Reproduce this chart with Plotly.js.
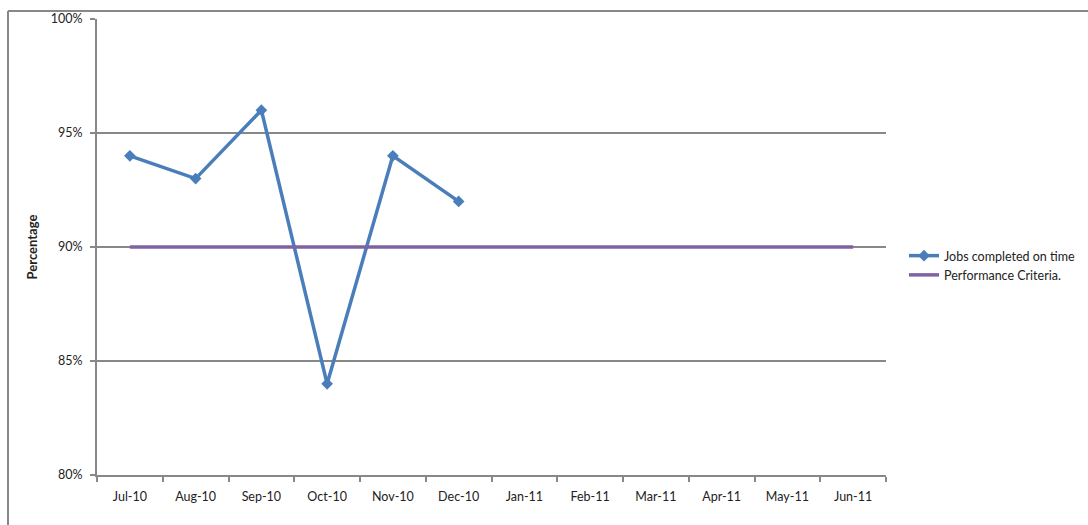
<!DOCTYPE html>
<html>
<head>
<meta charset="utf-8">
<script src="https://cdn.plot.ly/plotly-3.0.1.min.js"></script>
<style>html,body{margin:0;padding:0;background:#fff;}#chart{width:1088px;height:525px;}</style>
</head>
<body>
<div id="chart"></div>
<script>
const months = ["Jul-10","Aug-10","Sep-10","Oct-10","Nov-10","Dec-10","Jan-11","Feb-11","Mar-11","Apr-11","May-11","Jun-11"];
const jobsMonths = ["Jul-10","Aug-10","Sep-10","Oct-10","Nov-10","Dec-10"];
const jobsCompleted = [94, 93, 96, 84, 94, 92];
const criteria = [90,90,90,90,90,90,90,90,90,90,90,90];

const L = 97, R = 202, T = 19, B = 50, W = 1088, H = 525;
const pw = W - L - R, ph = H - T - B;
const px = v => (v - L) / pw;
const py = v => (H - B - v) / ph;

const traces = [
  {x: jobsMonths, y: jobsCompleted, type: 'scatter', mode: 'lines+markers',
   name: 'Jobs completed on time',
   line: {color: '#4a7ebb', width: 3.5},
   marker: {symbol: 'diamond', size: 9, color: '#4a7ebb'}},
  {x: months, y: criteria, type: 'scatter', mode: 'lines',
   name: 'Performance Criteria.',
   line: {color: '#7e62a1', width: 3.5}}
];

const font = {family: 'Lato, "Open Sans", sans-serif', size: 12.5, color: '#222'};
const layout = {
  width: W, height: H,
  margin: {l: L, r: R, t: T, b: B, pad: 0, autoexpand: false},
  paper_bgcolor: '#fff', plot_bgcolor: '#fff',
  font: font,
  showlegend: true,
  legend: {x: px(904), y: py(241), xanchor: 'left', yanchor: 'top',
           font: font, tracegroupgap: 6, itemwidth: 30, bgcolor: 'rgba(0,0,0,0)'},
  xaxis: {type: 'category', categoryorder: 'array', categoryarray: months,
          range: [-0.5, 11.5], showgrid: false, showline: true, linecolor: '#888', linewidth: 2,
          ticks: 'outside', tickson: 'boundaries', ticklen: 5, tickcolor: '#888', tickwidth: 2,
          ticklabelstandoff: 9, automargin: false,
          tickfont: font, zeroline: false, fixedrange: true},
  yaxis: {range: [80, 100], dtick: 5, tick0: 80, ticksuffix: '%',
          showgrid: true, gridcolor: '#888', gridwidth: 2,
          showline: true, linecolor: '#888', linewidth: 2,
          ticks: 'outside', ticklen: 5, tickcolor: '#888', tickwidth: 2,
          ticklabelstandoff: 5, automargin: false,
          tickfont: font, zeroline: false,
          title: {text: '<b>Percentage</b>', font: {family: font.family, size: 13, color: '#222'}, standoff: 10}},
  shapes: [
    {type: 'line', xref: 'paper', yref: 'paper', x0: px(8), x1: px(1100), y0: py(11), y1: py(11),
     line: {color: '#888', width: 2}},
    {type: 'line', xref: 'paper', yref: 'paper', x0: px(8), x1: px(8), y0: py(11), y1: py(540),
     line: {color: '#888', width: 2}}
  ]
};
Plotly.newPlot('chart', traces, layout, {displayModeBar: false, staticPlot: true});
</script>
</body>
</html>
